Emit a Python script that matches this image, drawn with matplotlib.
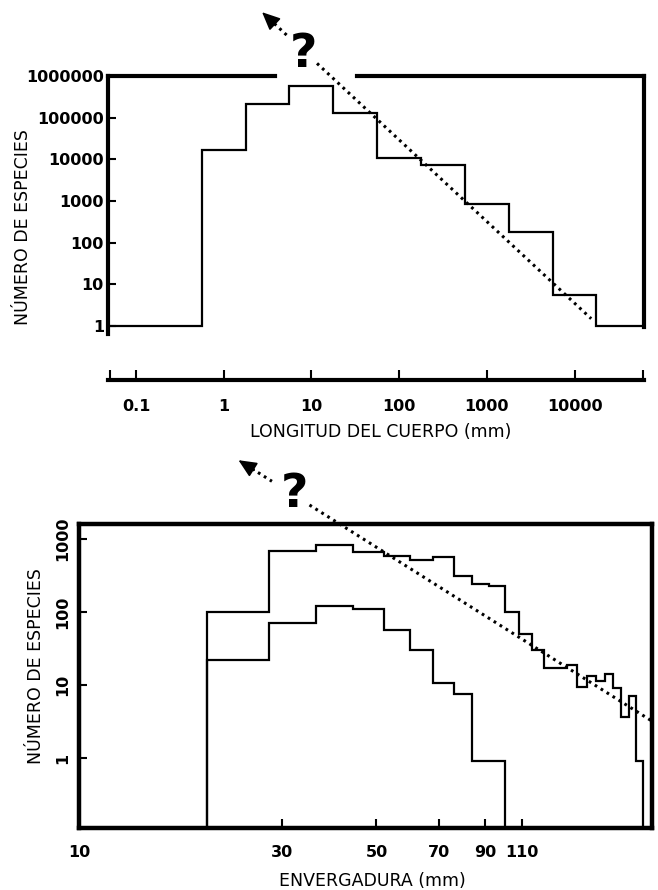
import numpy as np
import matplotlib.pyplot as plt

plt.rcParams['font.family'] = ['DejaVu Sans']

# --- panel 1: species count vs body length (half-decade bins)
len_edges = [0.048, 0.56, 1.78, 5.6, 17.8, 56, 178, 562, 1780, 5620, 17800, 62000]
len_counts = [1, 17000, 214000, 560000, 128000, 10500, 7400, 870, 180, 5.7, 1]
len_ticks = [0.1, 1, 10, 100, 1000, 10000]
len_ticklabels = ['0.1', '1', '10', '100', '1000', '10000']
top_yticks = [1, 10, 100, 1000, 10000, 100000, 1000000]
top_yticklabels = ['1', '10', '100', '1000', '10000', '100000', '1000000']
trend_top_x = [2.74, 15500]
trend_top_y = [3.4e7, 1.5]

# --- panel 2: species count vs wingspan (8 mm bins)
span_edges = [20, 28, 36, 44, 52, 60, 68, 76, 84, 92, 100, 108, 116, 124,
              132, 140, 148, 156, 164, 172, 180, 188, 196, 204, 212]
span_all = [100, 690, 830, 660, 580, 510, 565, 315, 245, 230, 100, 50, 30,
            17, 17, 18.8, 9.4, 13.4, 11.2, 14.3, 9, 3.7, 7.1, 0.9]
span_small_edges = [20, 28, 36, 44, 52, 60, 68, 76, 84, 92, 100]
span_small = [22, 70, 120, 110, 57, 30, 10.5, 7.5, 0.9, 0.9]
span_ticks = [10, 30, 50, 70, 90, 110]
span_ticklabels = ['10', '30', '50', '70', '90', '110']
bot_yticks = [1, 10, 100, 1000]
bot_yticklabels = ['1', '10', '100', '1000']
trend_bot_x = [23.7, 222]
trend_bot_y = [12000, 3.2]

W, H = 658, 890
fig = plt.figure(figsize=(W / 100, H / 100), dpi=100)


def px_axes(l, t, r, b):
    return fig.add_axes([l / W, 1 - b / H, (r - l) / W, (b - t) / H])


def on_line(xs, ys, x):
    return 10 ** np.interp(np.log10(x), np.log10(xs), np.log10(ys))


def dotted(ax, xs, ys, x0, x1):
    xx = np.array([x0, x1])
    ax.plot(xx, on_line(xs, ys, xx), color='black', lw=2.2,
            linestyle=(0, (0.9, 1.4)), clip_on=False)


def arrow_head(ax, xs, ys, back):
    tip = (xs[0], ys[0])
    tail = (back, on_line(xs, ys, back))
    ax.annotate('', xy=tip, xytext=tail, annotation_clip=False,
                arrowprops=dict(arrowstyle='-|>,head_length=1.1,head_width=0.5',
                                color='black', lw=1.2, shrinkA=0, shrinkB=0))


tick_font = dict(fontsize=11.5, fontweight='bold')

# ---------------- top panel
ax1 = px_axes(108, 76, 644, 380)
ax1.set_xscale('log')
ax1.set_yscale('log')
ax1.set_xlim(0.048, 62000)
ax1.set_ylim(0.0506, 1e6)
ax1.stairs(len_counts, len_edges, color='black', lw=1.6, baseline=None)

# top frame is broken where the trend arrow leaves the plot
ax1.spines['top'].set_visible(False)
ax1.plot([0, 0.3116], [1, 1], transform=ax1.transAxes, color='black', lw=3,
         clip_on=False, solid_capstyle='projecting')
ax1.plot([0.4646, 1], [1, 1], transform=ax1.transAxes, color='black', lw=3,
         clip_on=False, solid_capstyle='projecting')
for s in ['left', 'right', 'bottom']:
    ax1.spines[s].set_linewidth(3)
ax1.spines['left'].set_bounds(0.63, 1e6)
ax1.spines['right'].set_bounds(0.93, 1e6)

ax1.set_xticks(len_ticks)
ax1.set_xticklabels(len_ticklabels, **tick_font)
ax1.set_xticks([0.05, 60000], minor=True)
ax1.set_xticklabels(['', ''], minor=True)
ax1.tick_params(axis='x', which='both', direction='in', length=7, width=1.5, pad=14)
ax1.set_yticks(top_yticks)
ax1.set_yticklabels(top_yticklabels, **tick_font)
ax1.yaxis.set_minor_locator(plt.NullLocator())
ax1.tick_params(axis='y', which='major', direction='in', length=6, width=1.5, pad=3)

dotted(ax1, trend_top_x, trend_top_y, 3.3, 5.3)
dotted(ax1, trend_top_x, trend_top_y, 11.6, trend_top_x[1])
arrow_head(ax1, trend_top_x, trend_top_y, 3.5)
ax1.text(8.05, 1.6e6, '?', fontsize=34, fontweight='bold', ha='center',
         va='baseline', clip_on=False)

fig.text(23 / W, 1 - 227 / H, 'NÚMERO DE ESPECIES', rotation=90,
         ha='center', va='center', fontsize=12.5)
fig.text(381 / W, 1 - 432 / H, 'LONGITUD DEL CUERPO (mm)',
         ha='center', va='center', fontsize=12.5)

# ---------------- bottom panel
ax2 = px_axes(79, 524, 652, 828)
ax2.set_xscale('log')
ax2.set_yscale('log')
ax2.set_xlim(10, 222)
ax2.set_ylim(0.11, 1604)
ax2.stairs(span_all, span_edges, color='black', lw=1.6, baseline=1e-3)
ax2.stairs(span_small, span_small_edges, color='black', lw=1.6, baseline=1e-3)
for s in ax2.spines.values():
    s.set_linewidth(3.2)

ax2.set_xticks(span_ticks)
ax2.set_xticklabels(span_ticklabels, **tick_font)
ax2.xaxis.set_minor_locator(plt.NullLocator())
ax2.tick_params(axis='x', direction='in', length=6.5, width=1.5, pad=12)
ax2.set_yticks(bot_yticks)
ax2.set_yticklabels(bot_yticklabels, rotation=90, va='center', **tick_font)
ax2.yaxis.set_minor_locator(plt.NullLocator())
ax2.tick_params(axis='y', direction='in', length=6, width=1.5, pad=6)

dotted(ax2, trend_bot_x, trend_bot_y, 25.5, 28.4)
dotted(ax2, trend_bot_x, trend_bot_y, 34.8, trend_bot_x[1])
arrow_head(ax2, trend_bot_x, trend_bot_y, 25.8)
ax2.text(32.1, 2750, '?', fontsize=34, fontweight='bold', ha='center',
         va='baseline', clip_on=False)

fig.text(36 / W, 1 - 666 / H, 'NÚMERO DE ESPECIES', rotation=90,
         ha='center', va='center', fontsize=12.5)
fig.text(372 / W, 1 - 881 / H, 'ENVERGADURA (mm)',
         ha='center', va='center', fontsize=12.5)

fig.savefig('out.png', dpi=100)
